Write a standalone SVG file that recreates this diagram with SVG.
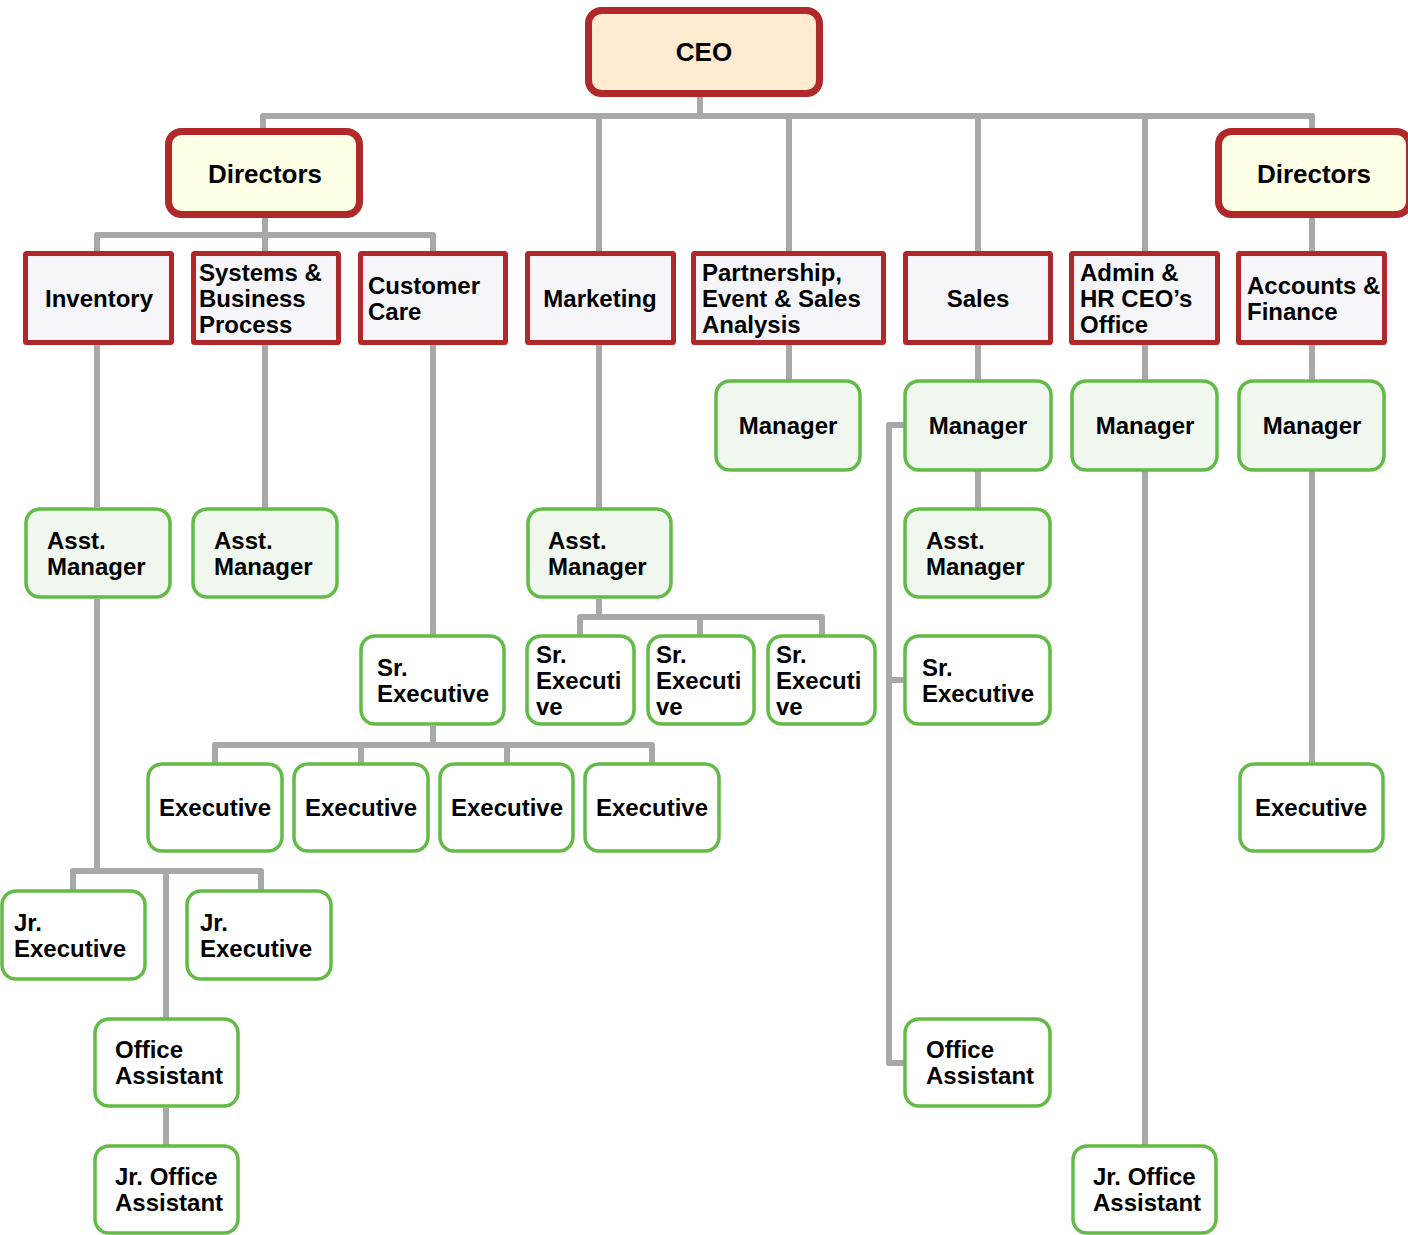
<svg xmlns="http://www.w3.org/2000/svg" width="1408" height="1235" viewBox="0 0 1408 1235">
<style>
text{font-family:"Liberation Sans",Arial,sans-serif;font-weight:bold;font-size:24px;fill:#000}
.big{font-size:26px}
.c{text-anchor:middle}
.top{fill:#FFEBD0;stroke:#B0282A;stroke-width:7}
.dir{fill:#FFFFE6;stroke:#B0282A;stroke-width:7}
.dept{fill:#F5F5FA;stroke:#B0282A;stroke-width:5}
.mgr{fill:#F0F7EF;stroke:#62BB46;stroke-width:3.5}
.emp{fill:#FFFFFF;stroke:#62BB46;stroke-width:3.5}
.conn path{fill:none;stroke:#A8A8A8;stroke-width:6;stroke-linejoin:round}
</style>
<rect width="1408" height="1235" fill="#FFFFFF"/>
<g class="conn" id="connectors">
<path d="M700,97 V116"/>
<path d="M263,132 V116 H1312 V132"/>
<path d="M599,116 V253"/><path d="M789,116 V253"/><path d="M978,116 V253"/><path d="M1145,116 V253"/>
<path d="M265,218 V253"/>
<path d="M97,253 V235 H433 V253"/>
<path d="M1312,218 V253"/>
<path d="M97,345 V507"/><path d="M97,599 V871"/>
<path d="M73,891 V871 H261 V891"/>
<path d="M166,871 V1019"/><path d="M166,1108 V1146"/>
<path d="M265,345 V509"/>
<path d="M433,345 V636"/><path d="M433,726 V745"/>
<path d="M215,764 V745 H652 V764"/>
<path d="M361,745 V764"/><path d="M507,745 V764"/>
<path d="M599,345 V509"/><path d="M599,599 V617"/>
<path d="M580,636 V617 H822 V636"/><path d="M700,617 V636"/>
<path d="M789,345 V381"/>
<path d="M978,345 V381"/><path d="M978,470 V509"/>
<path d="M905,425 H889 V1063 H905"/><path d="M889,680 H905"/>
<path d="M1145,345 V381"/><path d="M1145,470 V1146"/>
<path d="M1312,345 V381"/><path d="M1312,470 V764"/>
</g>
<g id="ceo"><rect class="top" x="588.5" y="10.5" width="231" height="83" rx="13"/><text class="big c" x="704" y="61">CEO</text></g>
<g id="directors-left"><rect class="dir" x="168.5" y="131.5" width="191" height="83" rx="13"/><text class="big c" x="265" y="183">Directors</text></g>
<g id="directors-right"><rect class="dir" x="1218.5" y="131.5" width="191" height="83" rx="13"/><text class="big c" x="1314" y="183">Directors</text></g>

<g id="inventory"><rect class="dept" x="25.5" y="253.5" width="146" height="89" rx="1"/><text class="c" x="99" y="307">Inventory</text></g>
<g id="systems"><rect class="dept" x="193.5" y="253.5" width="145" height="89" rx="1"/><text x="199" y="281">Systems &amp;</text><text x="199" y="307">Business</text><text x="199" y="333">Process</text></g>
<g id="customer-care"><rect class="dept" x="360.5" y="253.5" width="145" height="89" rx="1"/><text x="368" y="294">Customer</text><text x="368" y="320">Care</text></g>
<g id="marketing"><rect class="dept" x="527.5" y="253.5" width="146" height="89" rx="1"/><text class="c" x="600" y="307">Marketing</text></g>
<g id="partnership"><rect class="dept" x="693.5" y="253.5" width="190" height="89" rx="1"/><text x="702" y="281">Partnership,</text><text x="702" y="307">Event &amp; Sales</text><text x="702" y="333">Analysis</text></g>
<g id="sales"><rect class="dept" x="905.5" y="253.5" width="145" height="89" rx="1"/><text class="c" x="978" y="307">Sales</text></g>
<g id="admin"><rect class="dept" x="1071.5" y="253.5" width="146" height="89" rx="1"/><text x="1080" y="281">Admin &amp;</text><text x="1080" y="307">HR CEO’s</text><text x="1080" y="333">Office</text></g>
<g id="accounts"><rect class="dept" x="1238.5" y="253.5" width="146" height="89" rx="1"/><text x="1247" y="294">Accounts &amp;</text><text x="1247" y="320">Finance</text></g>

<g id="partnership-manager"><rect class="mgr" x="716" y="381" width="144" height="89" rx="14"/><text class="c" x="788" y="434">Manager</text></g>
<g id="sales-manager"><rect class="mgr" x="905" y="381" width="146" height="89" rx="14"/><text class="c" x="978" y="434">Manager</text></g>
<g id="admin-manager"><rect class="mgr" x="1072" y="381" width="145" height="89" rx="14"/><text class="c" x="1145" y="434">Manager</text></g>
<g id="accounts-manager"><rect class="mgr" x="1239" y="381" width="145" height="89" rx="14"/><text class="c" x="1312" y="434">Manager</text></g>

<g id="inventory-asst-manager"><rect class="mgr" x="26" y="509" width="144" height="88" rx="14"/><text x="47" y="549">Asst.</text><text x="47" y="575">Manager</text></g>
<g id="systems-asst-manager"><rect class="mgr" x="193" y="509" width="144" height="88" rx="14"/><text x="214" y="549">Asst.</text><text x="214" y="575">Manager</text></g>
<g id="marketing-asst-manager"><rect class="mgr" x="528" y="509" width="143" height="88" rx="14"/><text x="548" y="549">Asst.</text><text x="548" y="575">Manager</text></g>
<g id="sales-asst-manager"><rect class="mgr" x="905" y="509" width="145" height="88" rx="14"/><text x="926" y="549">Asst.</text><text x="926" y="575">Manager</text></g>

<g id="cc-sr-executive"><rect class="emp" x="361" y="636" width="143" height="88" rx="14"/><text x="377" y="676">Sr.</text><text x="377" y="702">Executive</text></g>
<g id="mkt-sr-executive-1"><rect class="emp" x="527" y="636" width="107" height="88" rx="14"/><text x="536" y="663">Sr.</text><text x="536" y="689">Executi</text><text x="536" y="715">ve</text></g>
<g id="mkt-sr-executive-2"><rect class="emp" x="648" y="636" width="106" height="88" rx="14"/><text x="656" y="663">Sr.</text><text x="656" y="689">Executi</text><text x="656" y="715">ve</text></g>
<g id="mkt-sr-executive-3"><rect class="emp" x="768" y="636" width="107" height="88" rx="14"/><text x="776" y="663">Sr.</text><text x="776" y="689">Executi</text><text x="776" y="715">ve</text></g>
<g id="sales-sr-executive"><rect class="emp" x="905" y="636" width="145" height="88" rx="14"/><text x="922" y="676">Sr.</text><text x="922" y="702">Executive</text></g>

<g id="cc-executive-1"><rect class="emp" x="148" y="764" width="134" height="87" rx="14"/><text class="c" x="215" y="816">Executive</text></g>
<g id="cc-executive-2"><rect class="emp" x="294" y="764" width="134" height="87" rx="14"/><text class="c" x="361" y="816">Executive</text></g>
<g id="cc-executive-3"><rect class="emp" x="440" y="764" width="133" height="87" rx="14"/><text class="c" x="507" y="816">Executive</text></g>
<g id="cc-executive-4"><rect class="emp" x="585" y="764" width="134" height="87" rx="14"/><text class="c" x="652" y="816">Executive</text></g>
<g id="accounts-executive"><rect class="emp" x="1240" y="764" width="143" height="87" rx="14"/><text class="c" x="1311" y="816">Executive</text></g>

<g id="inv-jr-executive-1"><rect class="emp" x="2" y="891" width="143" height="88" rx="14"/><text x="14" y="931">Jr.</text><text x="14" y="957">Executive</text></g>
<g id="inv-jr-executive-2"><rect class="emp" x="187" y="891" width="144" height="88" rx="14"/><text x="200" y="931">Jr.</text><text x="200" y="957">Executive</text></g>

<g id="inv-office-assistant"><rect class="emp" x="95" y="1019" width="143" height="87" rx="14"/><text x="115" y="1058">Office</text><text x="115" y="1084">Assistant</text></g>
<g id="sales-office-assistant"><rect class="emp" x="905" y="1019" width="145" height="87" rx="14"/><text x="926" y="1058">Office</text><text x="926" y="1084">Assistant</text></g>

<g id="inv-jr-office-assistant"><rect class="emp" x="95" y="1146" width="143" height="87" rx="14"/><text x="115" y="1185">Jr. Office</text><text x="115" y="1211">Assistant</text></g>
<g id="admin-jr-office-assistant"><rect class="emp" x="1073" y="1146" width="143" height="87" rx="14"/><text x="1093" y="1185">Jr. Office</text><text x="1093" y="1211">Assistant</text></g>
</svg>
